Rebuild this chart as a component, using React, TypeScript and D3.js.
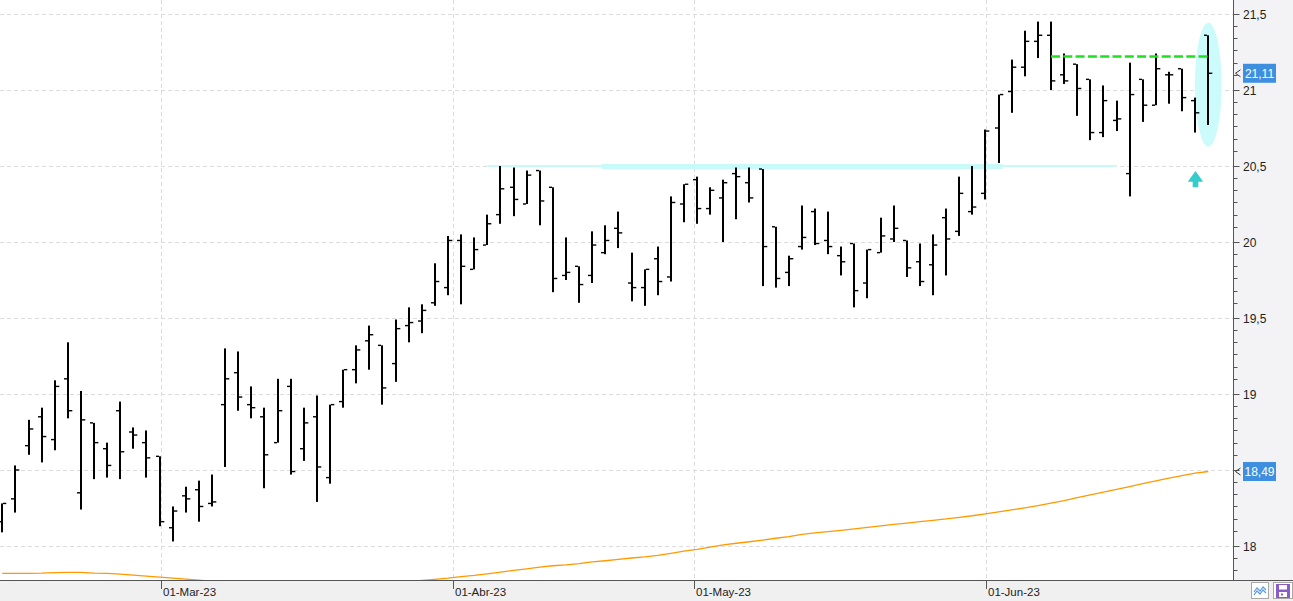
import React from "react";
import * as d3 from "d3";

// ---- Data (daily OHLC bars, index 0 = 13-Feb-23 ... 92 = 26-Jun-23) ----
const opens = [18.16,18.31,18.66,18.85,18.70,19.10,18.35,18.81,18.64,18.89,18.75,18.68,18.59,18.12,18.33,18.37,18.28,18.93,19.14,18.93,18.85,18.68,19.05,18.64,18.85,18.45,18.95,19.16,19.35,19.32,19.20,19.45,19.48,19.60,19.70,20.01,19.82,19.98,20.18,20.36,20.25,20.47,20.36,19.78,19.84,19.78,19.93,20.09,19.73,19.70,19.89,19.77,20.25,20.41,20.22,20.29,20.45,20.39,20.48,20.10,19.80,19.97,20.20,20.01,19.91,19.99,19.73,19.93,20.02,20.01,19.87,19.85,20.16,20.07,20.20,20.32,20.75,20.99,21.15,21.32,21.36,21.10,21.17,21.07,20.72,20.80,20.45,21.07,20.90,21.10,21.14,20.93,21.36];
const highs = [18.28,18.53,18.83,18.91,19.09,19.34,19.02,18.81,18.68,18.95,18.78,18.76,18.59,18.26,18.39,18.43,18.47,19.30,19.28,19.05,18.91,19.10,19.10,18.91,18.99,18.93,19.16,19.32,19.45,19.32,19.49,19.57,19.59,19.86,20.04,20.05,20.03,20.18,20.50,20.49,20.47,20.47,20.36,20.03,19.84,20.07,20.11,20.20,19.93,19.82,19.97,20.30,20.38,20.43,20.36,20.41,20.49,20.49,20.48,20.10,19.91,20.24,20.22,20.20,19.97,19.99,19.95,20.16,20.24,20.01,19.99,20.05,20.22,20.43,20.50,20.74,20.97,21.20,21.39,21.45,21.45,21.24,21.17,21.07,21.03,20.93,21.18,21.07,21.24,21.12,21.14,20.95,21.36];
const lows = [18.09,18.22,18.60,18.55,18.63,18.84,18.24,18.44,18.45,18.44,18.64,18.45,18.13,18.03,18.22,18.16,18.26,18.52,18.89,18.84,18.38,18.68,18.47,18.56,18.29,18.41,18.91,19.07,19.16,18.93,19.08,19.34,19.40,19.58,19.65,19.59,19.82,19.98,20.12,20.17,20.25,20.11,19.67,19.75,19.60,19.73,19.92,19.96,19.61,19.58,19.65,19.74,20.13,20.12,20.18,20.00,20.15,20.26,19.71,19.70,19.71,19.95,19.98,19.92,19.78,19.57,19.63,19.93,20.00,19.77,19.71,19.65,19.78,20.04,20.18,20.28,20.52,20.85,21.09,21.21,21.00,21.04,20.83,20.67,20.69,20.73,20.30,20.79,20.90,20.91,20.86,20.72,20.77];
const closes = [18.28,18.50,18.77,18.72,19.05,18.89,18.83,18.68,18.53,18.62,18.73,18.58,18.16,18.23,18.31,18.26,18.29,19.10,18.98,18.91,18.60,18.89,18.49,18.81,18.52,18.93,19.16,19.29,19.39,19.04,19.43,19.47,19.55,19.74,20.01,19.84,19.95,20.12,20.35,20.28,20.44,20.27,19.76,19.80,19.72,19.98,20.01,20.06,19.70,19.82,19.74,20.26,20.38,20.22,20.34,20.39,20.43,20.29,19.97,19.76,19.89,20.03,19.99,19.97,19.87,19.68,19.95,20.04,20.09,19.83,19.74,19.98,20.02,20.32,20.23,20.73,20.97,21.15,21.32,21.36,21.06,21.06,21.01,20.72,20.93,20.81,20.97,20.90,21.14,21.10,20.95,20.85,21.11];
const movingAvg = [17.820,17.820,17.820,17.821,17.825,17.826,17.826,17.822,17.820,17.815,17.808,17.802,17.795,17.789,17.782,17.775,17.768,17.760,17.752,17.745,17.740,17.735,17.732,17.730,17.729,17.730,17.732,17.736,17.742,17.749,17.757,17.765,17.773,17.781,17.789,17.799,17.807,17.817,17.828,17.840,17.850,17.861,17.870,17.876,17.884,17.895,17.903,17.912,17.921,17.928,17.938,17.952,17.966,17.978,17.993,18.007,18.018,18.028,18.039,18.051,18.062,18.076,18.086,18.094,18.103,18.113,18.123,18.133,18.142,18.151,18.160,18.169,18.178,18.189,18.199,18.211,18.224,18.237,18.251,18.266,18.282,18.299,18.318,18.336,18.354,18.372,18.391,18.410,18.429,18.446,18.463,18.480,18.49];

const priceTicks = [18, 18.5, 19, 19.5, 20, 20.5, 21, 21.5];
const dateTickLabels = ["01-Mar-23", "01-Abr-23", "01-May-23", "01-Jun-23"];
const dateTickIndex = [12.1, 34.38, 52.77, 75.04];

const lastCloseLabel = 21.11;
const lastMALabel = 18.49;
const valueLabels = [lastCloseLabel, lastMALabel];

// annotations (data units)
const supportLevel = 20.5;
const supportSpan = [37, 85];
const supportThickSpan = [45.7, 76.3];
const greenLevel = 21.22;
const greenSpan = [80, 92];
const ellipseIndex = 92;
const ellipseRange = [20.627, 21.443];
const arrowIndex = 91;
const arrowTipBase = [20.467, 20.36];

const W = 1293;
const H = 601;
const plotRight = 1233;
const plotBottom = 580;

const fmt = (v: number) => {
  const s = d3.format(".2~f")(v);
  return s.replace(".", ",");
};

export default function App() {
  const x = d3.scaleLinear().domain([0, 92]).range([2.3, 1208.3]);
  const y = d3.scaleLinear().domain([18, 21.5]).range([546, 14]);

  const maLine = d3
    .line<number>()
    .x((_, i) => x(i))
    .y((d) => y(d))(movingAvg) as string;

  const minorTicks: number[] = [];
  priceTicks.forEach((m) => {
    for (let k = 1; k <= 5; k++) {
      const v = m - 0.08 * k;
      const py = y(v);
      if (py > 0 && py < plotBottom) minorTicks.push(v);
    }
  });

  const font = "'Liberation Sans', Arial, sans-serif";

  // a tick label is hidden when a value box sits on it
  const hiddenByBox = (v: number) => valueLabels.some((b) => Math.abs(y(b) - y(v)) < 10);

  const ellCy = (y(ellipseRange[0]) + y(ellipseRange[1])) / 2;
  const ellRy = (y(ellipseRange[0]) - y(ellipseRange[1])) / 2;

  const ax = x(arrowIndex) + 0.3;
  const tipY = y(arrowTipBase[0]);
  const baseY = y(arrowTipBase[1]);
  const headBottom = tipY + 10.7;
  const arrowPath = `M${ax},${tipY} L${ax + 7.7},${headBottom} L${ax + 2.8},${headBottom} L${ax + 2.8},${baseY} L${ax - 2.8},${baseY} L${ax - 2.8},${headBottom} L${ax - 7.7},${headBottom} Z`;

  const valueBox = (v: number, key: string) => {
    const cy = y(v);
    return (
      <g key={key}>
        <rect x={1243} y={cy - 9.5} width={33} height={19} fill="#3f8fe0" />
        <text x={1259.5} y={cy + 0.5} fontSize={12} fill="#ffffff" fontFamily={font} dominantBaseline="central" textAnchor="middle">
          {fmt(v)}
        </text>
        <path d={`M1240.5,${cy - 3.5} L1235.5,${cy} L1240.5,${cy + 3.5}`} fill="none" stroke="#333" strokeWidth={1} />
      </g>
    );
  };

  return (
    <div style={{ position: "absolute", left: 0, top: 0 }}>
      <svg width={W} height={H} style={{ display: "block" }}>
        <defs>
          <clipPath id="plotClip">
            <rect x={0} y={0} width={plotRight} height={plotBottom} />
          </clipPath>
        </defs>
        <rect x={0} y={0} width={W} height={H} fill="#ffffff" />
        {/* right panel & bottom band */}
        <rect x={plotRight} y={0} width={W - plotRight} height={plotBottom} fill="#f3f3f5" />
        <rect x={0} y={plotBottom} width={W} height={H - plotBottom} fill="#f0f0f0" />

        {/* gridlines */}
        {priceTicks.map((v) => (
          <line key={"hg" + v} x1={0} x2={plotRight} y1={Math.round(y(v)) + 0.5} y2={Math.round(y(v)) + 0.5} stroke="#dcdcdc" strokeDasharray="4,3" />
        ))}
        {dateTickIndex.map((p, i) => (
          <line key={"vg" + i} x1={Math.round(x(p)) + 0.5} x2={Math.round(x(p)) + 0.5} y1={0} y2={plotBottom} stroke="#dcdcdc" strokeDasharray="4,3" />
        ))}

        <g clipPath="url(#plotClip)">
          {/* ellipse highlight */}
          <ellipse cx={x(ellipseIndex)} cy={ellCy} rx={13.3} ry={ellRy} fill="#ccfbfb" />
          {/* support line */}
          <line x1={x(supportSpan[0])} x2={x(supportSpan[1])} y1={y(supportLevel)} y2={y(supportLevel)} stroke="#c8fafa" strokeWidth={2} />
          <line x1={x(supportThickSpan[0])} x2={x(supportThickSpan[1])} y1={y(supportLevel) + 0.5} y2={y(supportLevel) + 0.5} stroke="#c8fafa" strokeWidth={5} />
          {/* moving average */}
          <path d={maLine} fill="none" stroke="#ff9900" strokeWidth={1.3} />
          {/* OHLC bars */}
          {opens.map((o, i) => {
            const cx = Math.round(x(i));
            const yh = y(highs[i]);
            const yl = y(lows[i]);
            const yo = y(o);
            const yc = y(closes[i]);
            return (
              <g key={"b" + i} fill="#000">
                <rect x={cx - 1} y={yh} width={2} height={Math.max(1, yl - yh)} />
                <rect x={cx - 4} y={yo - 0.7} width={3} height={1.4} />
                <rect x={cx + 1} y={yc - 0.7} width={3.3} height={1.4} />
              </g>
            );
          })}
          {/* green resistance */}
          <line x1={x(greenSpan[0])} x2={x(greenSpan[1])} y1={y(greenLevel)} y2={y(greenLevel)} stroke="#1fe01f" strokeWidth={2.6} strokeDasharray="9,3.3" />
          {/* arrow */}
          <path d={arrowPath} fill="#35cccc" />
        </g>

        {/* axes */}
        <line x1={plotRight + 0.5} x2={plotRight + 0.5} y1={0} y2={plotBottom} stroke="#555" strokeWidth={1} />
        <line x1={0} x2={W} y1={plotBottom + 0.5} y2={plotBottom + 0.5} stroke="#555" strokeWidth={1} />
        {priceTicks.map((v) => (
          <g key={"pt" + v}>
            <line x1={plotRight} x2={plotRight + 6.5} y1={Math.round(y(v)) + 0.5} y2={Math.round(y(v)) + 0.5} stroke="#555" />
            {!hiddenByBox(v) && (
              <text x={1243} y={y(v) + 0.5} fontSize={12} fill="#222" fontFamily={font} dominantBaseline="central">
                {fmt(v)}
              </text>
            )}
          </g>
        ))}
        {minorTicks.map((v, i) => (
          <line key={"mt" + i} x1={plotRight} x2={plotRight + 4.5} y1={Math.round(y(v)) + 0.5} y2={Math.round(y(v)) + 0.5} stroke="#555" />
        ))}
        {dateTickIndex.map((p, i) => (
          <g key={"dt" + i}>
            <line x1={Math.round(x(p)) + 0.5} x2={Math.round(x(p)) + 0.5} y1={plotBottom} y2={plotBottom + 9} stroke="#555" />
            <text x={Math.round(x(p)) + 2} y={596} fontSize={11.5} fill="#222" fontFamily={font}>
              {dateTickLabels[i]}
            </text>
          </g>
        ))}

        {valueBox(lastCloseLabel, "vc")}
        {valueBox(lastMALabel, "vm")}

        {/* bottom-right buttons */}
        <g>
          <rect x={1251.5} y={582.5} width={17} height={16} fill="#ffffff" stroke="#a8a8a8" />
          <path d="M1254,592 L1257,588 L1260,591 L1263,587 L1266,590" fill="none" stroke="#5a9be0" strokeWidth={1.2} />
          <path d="M1254,595 L1257,591 L1260,594 L1263,590 L1266,593" fill="none" stroke="#5a9be0" strokeWidth={1.2} />
          <rect x={1273.5} y={582.5} width={19} height={16} fill="#ffffff" stroke="#a8a8a8" />
          <rect x={1276} y={584} width={14} height={14} fill="#8a5cc8" />
          <rect x={1279} y={585} width={8} height={4.5} fill="#ffffff" />
          <rect x={1279} y={592} width={8} height={5} fill="#ffffff" />
          <rect x={1281} y={593.5} width={2} height={2} fill="#8a5cc8" />
        </g>
      </svg>
    </div>
  );
}
